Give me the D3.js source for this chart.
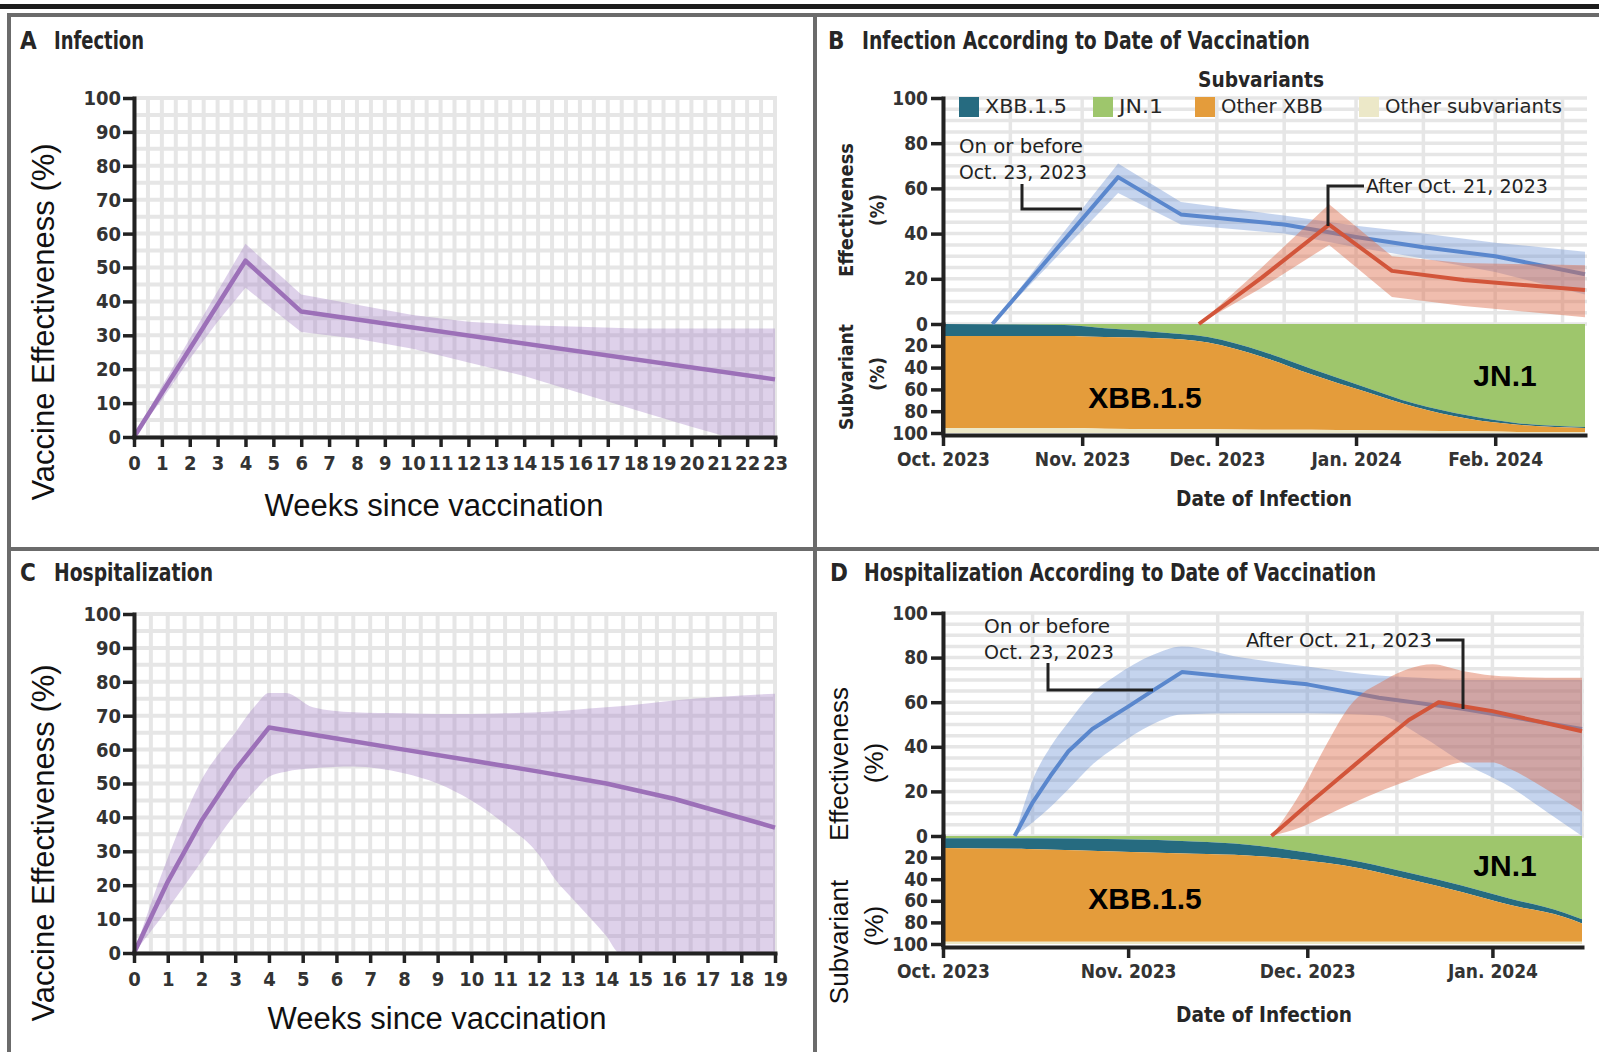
<!DOCTYPE html>
<html>
<head>
<meta charset="utf-8">
<script src="https://cdn.jsdelivr.net/npm/d3@7"></script>
<style>
  html, body { margin: 0; padding: 0; background: #fff; }
  svg { display: block; }
</style>
</head>
<body>
<svg id="fig" width="1599" height="1052"></svg>
<script>
// ---------- Panel A: infection, weeks since vaccination ----------
const weeksA = [0, 4, 6, 23];
const veA = [0, 52, 37, 17];
const bandWeeksA = [0, 1, 2, 3, 4, 5, 6, 8, 10, 12, 14, 16, 18, 20, 21.3, 23];
const lowA = [0, 11, 23, 34, 44, 37.5, 31, 29, 26, 22, 18, 13, 8, 3, 0, 0];
const highA = [0, 15, 29, 43, 57, 49.5, 42, 39, 36, 34, 33, 32.5, 32, 32, 32, 32];
const weekTicksA = [0, 1, 2, 3, 4, 5, 6, 7, 8, 9, 10, 11, 12, 13, 14, 15, 16, 17, 18, 19, 20, 21, 22, 23];

// ---------- Panel C: hospitalization, weeks since vaccination ----------
const weeksC = [0, 1, 2, 3, 4, 6, 8, 10, 12, 14, 16, 19];
const veC = [0, 21, 39, 54, 66.5, 63.3, 60, 56.8, 53.5, 50, 45.5, 37];
const bandWeeksC = [0, 1, 2, 3, 3.6, 4, 4.5, 5.3, 6.5, 8, 9, 10, 11, 12, 12.5, 13, 14, 14.4, 16, 19];
const lowC = [0, 13, 27, 41, 48, 52, 53.5, 54.5, 55, 53, 50, 45, 38, 29, 21.5, 16, 5, 0, 0, 0];
const highC = [0, 28, 51, 65, 73, 76.7, 76.7, 72.5, 71, 70.7, 70.5, 70.5, 70.7, 71, 71.3, 71.7, 72.5, 72.8, 74.5, 76.5];
const weekTicksC = [0, 1, 2, 3, 4, 5, 6, 7, 8, 9, 10, 11, 12, 13, 14, 15, 16, 17, 18, 19];

const veTicks = [0, 10, 20, 30, 40, 50, 60, 70, 80, 90, 100];

// ---------- Panel B: infection by date of infection ----------
const domainB = ['2023-10-01', '2024-02-21'];
const monthTicksB = ['2023-10-01', '2023-11-01', '2023-12-01', '2024-01-01', '2024-02-01'];
const monthLabelsB = ['Oct. 2023', 'Nov. 2023', 'Dec. 2023', 'Jan. 2024', 'Feb. 2024'];
const earlyDatesB = ['2023-10-12', '2023-10-26', '2023-11-09', '2023-11-23', '2023-12-16', '2024-01-01', '2024-01-16', '2024-02-01', '2024-02-21'];
const earlyVeB = [0, 32.5, 65, 48.5, 44, 38.5, 34, 30, 22];
const earlyLowB = [0, 29, 58, 44, 40, 34, 29, 23, 13];
const earlyHighB = [0, 36, 71, 54, 48, 43.5, 40, 36, 32];
const lateDatesB = ['2023-11-27', '2023-12-11', '2023-12-26', '2024-01-09', '2024-01-25', '2024-02-21'];
const lateVeB = [0, 20.5, 44, 23.5, 19.5, 15];
const lateLowB = [0, 16, 35, 12, 8, 3];
const lateHighB = [0, 25, 53, 30, 27, 26];
const shareDatesB = ['2023-10-01', '2023-10-28', '2023-11-06', '2023-11-18', '2023-11-29', '2023-12-11', '2023-12-22', '2024-01-03', '2024-01-14', '2024-01-26', '2024-02-06', '2024-02-21'];
const jn1B = [0, 1, 4, 7.5, 12, 25, 41, 58, 73, 84, 91, 94.5];
const xbb15B = [11, 10, 8, 5.5, 5, 5, 5, 4, 3, 3, 1.5, 1];
const otherXbbB = [84.5, 84.5, 84, 83.5, 79.5, 67, 51, 35.5, 22, 11.5, 6.5, 3.5];
const otherSubB = [4.5, 4.5, 4, 3.5, 3.5, 3, 3, 2.5, 2, 1.5, 1, 1];

// ---------- Panel D: hospitalization by date of infection ----------
const domainD = ['2023-10-01', '2024-01-16'];
const monthTicksD = ['2023-10-01', '2023-11-01', '2023-12-01', '2024-01-01'];
const monthLabelsD = ['Oct. 2023', 'Nov. 2023', 'Dec. 2023', 'Jan. 2024'];
const earlyDatesD = ['2023-10-13', '2023-10-16', '2023-10-19', '2023-10-22', '2023-10-26', '2023-11-01', '2023-11-05', '2023-11-10', '2023-12-01', '2023-12-13', '2023-12-27', '2024-01-16'];
const earlyVeD = [0, 15, 27, 38, 48, 58, 65, 73.5, 68, 62, 57, 48];
const earlyBandDatesD = ['2023-10-13', '2023-10-16', '2023-10-19', '2023-10-22', '2023-10-26', '2023-10-30', '2023-11-05', '2023-11-10', '2023-11-20', '2023-12-01', '2023-12-13', '2023-12-20', '2023-12-27', '2024-01-04', '2024-01-10', '2024-01-16'];
const earlyLowD = [0, 6, 13, 21, 32, 40, 50, 54.5, 55, 55, 54, 45, 33, 22, 11, 0];
const earlyHighD = [0, 25, 40, 51, 64, 72, 81, 85, 80, 76, 72, 71, 70, 70, 70, 70];
const lateDatesD = ['2023-11-25', '2023-11-28', '2023-12-01', '2023-12-05', '2023-12-09', '2023-12-13', '2023-12-18', '2023-12-23', '2024-01-01', '2024-01-16'];
const lateVeD = [0, 7, 14, 23, 32, 41, 52, 60, 56, 47];
const lateBandDatesD = ['2023-11-25', '2023-11-30', '2023-12-04', '2023-12-08', '2023-12-14', '2023-12-18', '2023-12-22', '2023-12-27', '2024-01-01', '2024-01-04', '2024-01-10', '2024-01-16'];
const lateLowD = [0, 4, 9, 14, 21, 25, 29, 33, 33, 30, 21, 11];
const lateHighD = [0, 20, 40, 58, 70, 75, 77, 74, 72, 71.5, 71, 71];
const shareDatesD = ['2023-10-01', '2023-10-15', '2023-10-31', '2023-11-12', '2023-11-21', '2023-11-28', '2023-12-10', '2023-12-18', '2023-12-27', '2024-01-04', '2024-01-13', '2024-01-16'];
const jn1D = [2, 2, 3, 5, 8, 13, 24, 34, 46, 58, 71, 77];
const xbb15D = [9, 10, 11.5, 11.5, 10, 8, 6, 6, 6, 6, 4, 4];
const otherXbbD = [87, 86, 83.5, 81.5, 80, 77, 68, 58, 46, 34, 23, 17];
const otherSubD = [2, 2, 2, 2, 2, 2, 2, 2, 2, 2, 2, 2];

const effTicks = [0, 20, 40, 60, 80, 100];
const shareTicks = [20, 40, 60, 80, 100];
const variantKeys = ['JN.1', 'XBB.1.5', 'Other XBB', 'Other subvariants'];
const legendOrder = ['XBB.1.5', 'JN.1', 'Other XBB', 'Other subvariants'];

// ---------- styling ----------
const NARROW = "'Liberation Sans Narrow','Arial Narrow','DejaVu Sans Condensed',sans-serif";
const SANS = "'Liberation Sans',Arial,Helvetica,sans-serif";
const INK = '#222';
const FRAME = '#6b6b6b';
const GRID = '#e6e6e6';
const PURPLE = '#9c70b8';
const BLUE = '#5a87cd';
const RED = '#d2553a';
const variantColor = {
  'XBB.1.5': '#266b80',
  'JN.1': '#9ec66c',
  'Other XBB': '#e49c3b',
  'Other subvariants': '#ece8c8'
};

const parse = d3.timeParse('%Y-%m-%d');
const svg = d3.select('#fig');

// ---------- figure frame ----------
svg.append('rect').attr('x', 0).attr('y', 4).attr('width', 1599).attr('height', 5).attr('fill', '#1c1c1c');
svg.append('rect').attr('x', 7).attr('y', 13).attr('width', 1592).attr('height', 4).attr('fill', FRAME);
svg.append('rect').attr('x', 7).attr('y', 13).attr('width', 4).attr('height', 1039).attr('fill', FRAME);
svg.append('rect').attr('x', 813).attr('y', 13).attr('width', 4).attr('height', 1039).attr('fill', FRAME);
svg.append('rect').attr('x', 7).attr('y', 547).attr('width', 1592).attr('height', 4).attr('fill', FRAME);

function fitText(g, x, y, str, width, size, opts = {}) {
  const t = g.append('text')
    .attr('x', x).attr('y', y)
    .attr('font-family', opts.family || NARROW)
    .attr('font-size', size)
    .attr('font-weight', opts.weight || 'bold')
    .attr('fill', opts.fill || '#262626')
    .attr('dominant-baseline', 'central')
    .attr('text-anchor', opts.anchor || 'start')
    .text(str);
  if (width) t.attr('textLength', width).attr('lengthAdjust', 'spacingAndGlyphs');
  if (opts.rotate) t.attr('transform', `rotate(-90,${x},${y})`);
  return t;
}

function panelTitle(x, y, letter, text, width) {
  fitText(svg, x, y, letter, null, 24);
  fitText(svg, x + 34, y, text, width, 24);
}

function styleAxis(g, size) {
  g.select('.domain').attr('stroke', INK).attr('stroke-width', 4).attr('stroke-linecap', 'square');
  g.selectAll('.tick line').attr('stroke', INK).attr('stroke-width', 3.5);
  g.selectAll('.tick text')
    .attr('font-family', NARROW)
    .attr('font-size', size)
    .attr('font-weight', 'bold')
    .attr('fill', '#333');
}

// ---------- weeks-since-vaccination panels (A, C) ----------
function weeksPanel(cfg) {
  const x = d3.scaleLinear().domain([0, cfg.maxWeek]).range([134, 775]);
  const y = d3.scaleLinear().domain([0, 100]).range([cfg.bottom, cfg.top]);
  const g = svg.append('g');

  const grid = g.append('g').attr('stroke', GRID).attr('stroke-width', 4);
  grid.selectAll('line.h').data(d3.range(0, 101, 5)).join('line')
    .attr('x1', x(0)).attr('x2', x(cfg.maxWeek) + 2)
    .attr('y1', d => y(d)).attr('y2', d => y(d));
  grid.selectAll('line.v').data(d3.range(0, cfg.maxWeek + 0.01, 0.5)).join('line')
    .attr('x1', d => x(d)).attr('x2', d => x(d))
    .attr('y1', y(100)).attr('y2', y(0));

  const band = cfg.bandWeeks.map((w, i) => ({ w, lo: cfg.low[i], hi: cfg.high[i] }));
  g.append('path').datum(band)
    .attr('fill', '#a47fc6').attr('fill-opacity', 0.36)
    .attr('d', d3.area().x(d => x(d.w)).y0(d => y(d.lo)).y1(d => y(d.hi)).curve(cfg.bandCurve));

  const pts = cfg.weeks.map((w, i) => ({ w, v: cfg.ve[i] }));
  g.append('path').datum(pts)
    .attr('fill', 'none').attr('stroke', PURPLE).attr('stroke-width', 4.5).attr('stroke-linejoin', 'round')
    .attr('d', d3.line().x(d => x(d.w)).y(d => y(d.v)));

  const ax = g.append('g').attr('transform', `translate(0,${y(0)})`)
    .call(d3.axisBottom(x).tickValues(cfg.weekTicks).tickFormat(d3.format('d')).tickSize(10).tickSizeOuter(0).tickPadding(9));
  styleAxis(ax, 20);
  const ay = g.append('g').attr('transform', `translate(${x(0)},0)`)
    .call(d3.axisLeft(y).tickValues(veTicks).tickSize(11).tickSizeOuter(0).tickPadding(2));
  styleAxis(ay, 20);

  g.append('text')
    .attr('x', cfg.xTitleX).attr('y', cfg.xTitleY)
    .attr('font-family', SANS).attr('font-size', 31).attr('fill', '#111')
    .attr('text-anchor', 'middle').attr('dominant-baseline', 'central')
    .text('Weeks since vaccination');
  g.append('text')
    .attr('transform', `translate(43,${cfg.yTitleY}) rotate(-90)`)
    .attr('font-family', SANS).attr('font-size', 31).attr('fill', '#111')
    .attr('text-anchor', 'middle').attr('dominant-baseline', 'central')
    .text('Vaccine Effectiveness (%)');
}

panelTitle(20, 41, 'A', 'Infection', 90);
weeksPanel({
  maxWeek: 23, top: 98, bottom: 437, bandCurve: d3.curveLinear,
  weeks: weeksA, ve: veA, bandWeeks: bandWeeksA, low: lowA, high: highA,
  weekTicks: weekTicksA, xTitleX: 434, xTitleY: 505, yTitleY: 322
});

panelTitle(20, 573, 'C', 'Hospitalization', 159);
weeksPanel({
  maxWeek: 19, top: 614, bottom: 953, bandCurve: d3.curveMonotoneX,
  weeks: weeksC, ve: veC, bandWeeks: bandWeeksC, low: lowC, high: highC,
  weekTicks: weekTicksC, xTitleX: 437, xTitleY: 1018, yTitleY: 843
});

// ---------- date-of-infection panels (B, D) ----------
function halfMonths(start, end) {
  const out = [];
  for (let m = d3.timeMonth.floor(start); m <= end; m = d3.timeMonth.offset(m, 1)) {
    out.push(m, d3.timeDay.offset(m, 15));
  }
  return out.filter(d => d >= start && d <= end);
}

function datePanel(cfg) {
  const start = parse(cfg.domain[0]), end = parse(cfg.domain[1]);
  const x = d3.scaleTime().domain([start, end]).range([943, cfg.right]);
  const yE = d3.scaleLinear().domain([0, 100]).range([cfg.zero, cfg.top]);
  const yS = d3.scaleLinear().domain([0, 100]).range([cfg.zero, cfg.shareBottom]);
  const g = svg.append('g');

  const grid = g.append('g').attr('stroke', GRID).attr('stroke-width', 3.5);
  grid.selectAll('line.h').data(d3.range(0, 101, 5)).join('line')
    .attr('x1', 943).attr('x2', cfg.right + 2)
    .attr('y1', d => yE(d)).attr('y2', d => yE(d));
  grid.selectAll('line.v').data(halfMonths(start, end)).join('line')
    .attr('x1', d => x(d)).attr('x2', d => x(d))
    .attr('y1', yE(100)).attr('y2', yE(0));

  // subvariant shares, stacked downward from the zero line
  const rows = cfg.shareDates.map((d, i) => ({
    date: parse(d),
    'JN.1': cfg.jn1[i], 'XBB.1.5': cfg.xbb15[i],
    'Other XBB': cfg.otherXbb[i], 'Other subvariants': cfg.otherSub[i]
  }));
  const series = d3.stack().keys(variantKeys)(rows);
  g.append('g').selectAll('path').data(series).join('path')
    .attr('fill', s => variantColor[s.key])
    .attr('d', d3.area().x(d => x(d.data.date)).y0(d => yS(d[0])).y1(d => yS(d[1])).curve(d3.curveMonotoneX));

  const bandCurve = cfg.smooth ? d3.curveMonotoneX : d3.curveLinear;
  const bandArea = d3.area().x(d => x(d.date)).y0(d => yE(d.lo)).y1(d => yE(d.hi)).curve(bandCurve);
  const lineGen = d3.line().x(d => x(d.date)).y(d => yE(d.v));

  const earlyBand = cfg.earlyBandDates.map((d, i) => ({ date: parse(d), lo: cfg.earlyLow[i], hi: cfg.earlyHigh[i] }));
  const lateBand = cfg.lateBandDates.map((d, i) => ({ date: parse(d), lo: cfg.lateLow[i], hi: cfg.lateHigh[i] }));
  const earlyLine = cfg.earlyDates.map((d, i) => ({ date: parse(d), v: cfg.earlyVe[i] }));
  const lateLine = cfg.lateDates.map((d, i) => ({ date: parse(d), v: cfg.lateVe[i] }));

  g.append('path').datum(earlyBand).attr('fill', '#5f88d0').attr('fill-opacity', 0.36).attr('d', bandArea);
  g.append('path').datum(earlyLine).attr('fill', 'none').attr('stroke', BLUE).attr('stroke-width', 4)
    .attr('stroke-linejoin', 'round').attr('d', lineGen);
  g.append('path').datum(lateBand).attr('fill', '#dd6d4c').attr('fill-opacity', 0.45).attr('d', bandArea);
  g.append('path').datum(lateLine).attr('fill', 'none').attr('stroke', RED).attr('stroke-width', 4)
    .attr('stroke-linejoin', 'round').attr('d', lineGen);

  // axes
  const ticks = cfg.monthTicks.map(parse);
  const ax = g.append('g').attr('transform', `translate(0,${cfg.axisY})`)
    .call(d3.axisBottom(x).tickValues(ticks).tickFormat((d, i) => cfg.monthLabels[i])
      .tickSize(11).tickSizeOuter(0).tickPadding(7));
  styleAxis(ax, 19);
  const ayE = g.append('g').attr('transform', 'translate(943,0)')
    .call(d3.axisLeft(yE).tickValues(effTicks).tickSize(12).tickSizeOuter(0).tickPadding(3));
  styleAxis(ayE, 19);
  const ayS = g.append('g').attr('transform', 'translate(943,0)')
    .call(d3.axisLeft(yS).tickValues(shareTicks).tickSize(12).tickSizeOuter(0).tickPadding(3));
  styleAxis(ayS, 19);
  g.append('line').attr('x1', 943).attr('x2', 943).attr('y1', cfg.zero).attr('y2', cfg.axisY)
    .attr('stroke', INK).attr('stroke-width', 4);

  fitText(g, 1264, cfg.xTitleY, 'Date of Infection', 176, 21, { anchor: 'middle' });

  // curve labels with leader lines
  const lead = g.append('g').attr('fill', 'none').attr('stroke', INK).attr('stroke-width', 3);
  lead.append('path').attr('d', d3.line()(cfg.earlyLeader));
  lead.append('path').attr('d', d3.line()(cfg.lateLeader));
  fitText(g, cfg.earlyLabel[0], cfg.earlyLabel[1], 'On or before', cfg.earlyLabel[2], 20, { weight: 'normal', fill: '#222' });
  fitText(g, cfg.earlyLabel[0], cfg.earlyLabel[1] + 26, 'Oct. 23, 2023', cfg.earlyLabel[3], 20, { weight: 'normal', fill: '#222' });
  fitText(g, cfg.lateLabel[0], cfg.lateLabel[1], 'After Oct. 21, 2023', cfg.lateLabel[2], 20, { weight: 'normal', fill: '#222' });

  // variant names on the stacked area
  g.append('text').attr('x', cfg.xbbLabel[0]).attr('y', cfg.xbbLabel[1])
    .attr('font-family', SANS).attr('font-weight', 'bold').attr('font-size', 30)
    .attr('text-anchor', 'middle').attr('dominant-baseline', 'central').attr('fill', '#000')
    .text('XBB.1.5');
  g.append('text').attr('x', cfg.jnLabel[0]).attr('y', cfg.jnLabel[1])
    .attr('font-family', SANS).attr('font-weight', 'bold').attr('font-size', 30)
    .attr('text-anchor', 'middle').attr('dominant-baseline', 'central').attr('fill', '#000')
    .text('JN.1');
  return g;
}

panelTitle(828, 41, 'B', 'Infection According to Date of Vaccination', 448);
const gB = datePanel({
  domain: domainB, right: 1585, top: 98, zero: 324, shareBottom: 433, axisY: 435, smooth: false,
  monthTicks: monthTicksB, monthLabels: monthLabelsB,
  earlyDates: earlyDatesB, earlyVe: earlyVeB, earlyBandDates: earlyDatesB, earlyLow: earlyLowB, earlyHigh: earlyHighB,
  lateDates: lateDatesB, lateVe: lateVeB, lateBandDates: lateDatesB, lateLow: lateLowB, lateHigh: lateHighB,
  shareDates: shareDatesB, jn1: jn1B, xbb15: xbb15B, otherXbb: otherXbbB, otherSub: otherSubB,
  xTitleY: 499,
  earlyLeader: [[1022, 184], [1022, 209], [1082, 209]],
  lateLeader: [[1364, 186], [1328, 186], [1328, 226]],
  earlyLabel: [959, 146, 124, 128],
  lateLabel: [1366, 186, 182],
  xbbLabel: [1145, 397], jnLabel: [1505, 375]
});
// rotated axis titles, panel B
fitText(gB, 846, 210, 'Effectiveness', 134, 20, { anchor: 'middle', rotate: true });
fitText(gB, 877, 210, '(%)', 32, 20, { anchor: 'middle', rotate: true });
fitText(gB, 846, 377, 'Subvariant', 106, 20, { anchor: 'middle', rotate: true });
fitText(gB, 877, 374, '(%)', 34, 20, { anchor: 'middle', rotate: true });

// legend, panel B
fitText(gB, 1261, 80, 'Subvariants', 126, 21, { anchor: 'middle' });
const legendX = [959, 1093, 1195, 1359];
const legendW = [82, 44, 102, 177];
legendOrder.forEach((k, i) => {
  gB.append('rect').attr('x', legendX[i]).attr('y', 97).attr('width', 20).attr('height', 20).attr('fill', variantColor[k]);
  fitText(gB, legendX[i] + 26, 106, k, legendW[i], 20, { weight: 'normal' });
});

panelTitle(830, 573, 'D', 'Hospitalization According to Date of Vaccination', 512);
const gD = datePanel({
  domain: domainD, right: 1582, top: 613, zero: 836, shareBottom: 944, axisY: 947, smooth: true,
  monthTicks: monthTicksD, monthLabels: monthLabelsD,
  earlyDates: earlyDatesD, earlyVe: earlyVeD, earlyBandDates: earlyBandDatesD, earlyLow: earlyLowD, earlyHigh: earlyHighD,
  lateDates: lateDatesD, lateVe: lateVeD, lateBandDates: lateBandDatesD, lateLow: lateLowD, lateHigh: lateHighD,
  shareDates: shareDatesD, jn1: jn1D, xbb15: xbb15D, otherXbb: otherXbbD, otherSub: otherSubD,
  xTitleY: 1015,
  earlyLeader: [[1048, 663], [1048, 690], [1153, 690]],
  lateLeader: [[1436, 640], [1463, 640], [1463, 709]],
  earlyLabel: [984, 626, 126, 130],
  lateLabel: [1246, 640, 186],
  xbbLabel: [1145, 898], jnLabel: [1505, 865]
});
// rotated axis titles, panel D
[['Effectiveness', 839, 764], ['(%)', 874, 763], ['Subvariant', 839, 942], ['(%)', 874, 926]].forEach(([s, x, y]) => {
  gD.append('text')
    .attr('transform', `translate(${x},${y}) rotate(-90)`)
    .attr('font-family', SANS).attr('font-size', 26).attr('fill', '#111')
    .attr('text-anchor', 'middle').attr('dominant-baseline', 'central')
    .text(s);
});
</script>
</body>
</html>
